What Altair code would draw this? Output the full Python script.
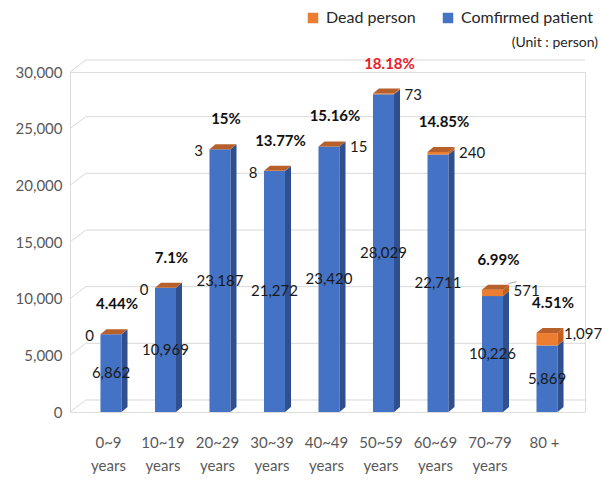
import json
import altair as alt
import pandas as pd

# ---------------- data ----------------
categories = ["0~9 years", "10~19 years", "20~29 years", "30~39 years", "40~49 years",
              "50~59 years", "60~69 years", "70~79 years", "80 +"]
confirmed = [6862, 10969, 23187, 21272, 23420, 28029, 22711, 10226, 5869]
dead = [0, 0, 3, 8, 15, 73, 240, 571, 1097]
rates = ["4.44%", "7.1%", "15%", "13.77%", "15.16%", "18.18%", "14.85%", "6.99%", "4.51%"]
series = ["Dead person", "Comfirmed patient"]
y_ticks = [0, 5000, 10000, 15000, 20000, 25000, 30000]
unit_note = ["(Unit : person)"]

# ---------------- styles ----------------
FONT = "Lato"
BLUE, BLUE_SIDE = "#4472C4", "#2F4F8F"
ORANGE, ORANGE_SIDE, ORANGE_TOP = "#ED7D31", "#C45F1E", "#B8602C"
HALF = 0.193      # half of front face width (category units)
DX = 0.11         # 3D depth, horizontal (category units)
DY = 441          # 3D depth, vertical (value units, ~5px)
X_MIN, X_MAX = -0.752, 8.697
WALL_DX = 0.29    # back-wall offset of gridlines (category units, ~16px)
WALL_DY = 1060    # back-wall offset of gridlines (value units, ~12px)

# ---------------- tables built from the arrays ----------------
bars = pd.DataFrame({"i": range(len(categories)), "cat": categories,
                     "confirmed": confirmed, "dead": dead, "rate": rates})
bars["total"] = bars["confirmed"] + bars["dead"]

seg_rows, side_rows, top_rows = [], [], []
for r in bars.itertuples():
    for s, lo, hi in [("Comfirmed patient", 0, r.confirmed), ("Dead person", r.confirmed, r.total)]:
        seg_rows.append({"i": r.i, "series": s, "x0": r.i - HALF, "x1": r.i + HALF, "lo": lo, "hi": hi})
        key = f"{r.i}-{s}"
        side_rows.append({"key": key, "series": s, "x": r.i + HALF, "lo": lo, "hi": hi})
        side_rows.append({"key": key, "series": s, "x": r.i + HALF + DX, "lo": lo + DY, "hi": hi + DY})
    t = r.total
    for x, lo, hi in [(r.i - HALF, t, t), (r.i - HALF + DX, t, t + DY),
                      (r.i + HALF, t, t + DY), (r.i + HALF + DX, t + DY, t + DY)]:
        top_rows.append({"key": str(r.i), "x": x, "lo": lo, "hi": hi})
segs = pd.DataFrame(seg_rows)
sides = pd.DataFrame(side_rows)
tops = pd.DataFrame(top_rows)

grid_rows = []
for v in y_ticks:
    grid_rows.append({"key": v, "x": X_MIN, "y": v})
    grid_rows.append({"key": v, "x": X_MIN + WALL_DX, "y": v + WALL_DY})
    grid_rows.append({"key": v, "x": X_MAX, "y": v + WALL_DY})
grid = pd.DataFrame(grid_rows)

xscale = alt.Scale(domain=[X_MIN, X_MAX], nice=False, zero=False)
yscale = alt.Scale(domain=[0, 30000], nice=False)

arr = json.dumps(categories)
lab = f"{arr}[datum.value]"
label_expr = f"indexof({lab}, ' years') > 0 ? [replace({lab}, ' years', ''), 'years'] : {lab}"

XAX = alt.Axis(values=list(range(len(categories))), labelExpr=label_expr,
               labelFontSize=15, labelFont=FONT, labelColor="#595959",
               labelLineHeight=23, labelBaseline="top", labelPadding=23,
               labelOffset=-3, domain=False, ticks=False, grid=False, title=None)
YAX = alt.Axis(values=y_ticks, labelExpr="format(datum.value, ',')", labelFontSize=15,
               labelFont=FONT, labelColor="#595959", domain=False, ticks=False, grid=False,
               labelPadding=8, title=None)


def X(field):
    return alt.X(field, scale=xscale, axis=XAX, title=None)


def Y(field, **kw):
    return alt.Y(field, scale=yscale, axis=YAX, title=None, **kw)


# ---------------- layers ----------------
grid_lines = alt.Chart(grid).mark_line(color="#D9D9D9", strokeWidth=1).encode(
    x=X("x:Q"), y=Y("y:Q"), detail="key:N", order="x:Q",
)

front = alt.Chart(segs).mark_rect().encode(
    x=X("x0:Q"), x2="x1:Q",
    y=Y("lo:Q"), y2="hi:Q",
    color=alt.Color("series:N",
                    scale=alt.Scale(domain=series, range=[ORANGE, BLUE]),
                    legend=alt.Legend(orient="none", legendX=235, legendY=-62,
                                      direction="horizontal", title=None,
                                      symbolType="square", symbolSize=110,
                                      symbolStrokeWidth=0, labelFontSize=16,
                                      labelFont=FONT, labelColor="#262626",
                                      labelOffset=5, columnPadding=24)),
)

side_blue = alt.Chart(sides).transform_filter("datum.series == 'Comfirmed patient'").mark_area(
    color=BLUE_SIDE, opacity=1).encode(
    x=X("x:Q"), y=Y("hi:Q", stack=None), y2="lo:Q", detail="key:N",
)
side_orange = alt.Chart(sides).transform_filter("datum.series == 'Dead person'").mark_area(
    color=ORANGE_SIDE, opacity=1).encode(
    x=X("x:Q"), y=Y("hi:Q", stack=None), y2="lo:Q", detail="key:N",
)
top_face = alt.Chart(tops).mark_area(color=ORANGE_TOP, opacity=1).encode(
    x=X("x:Q"), y=Y("hi:Q", stack=None), y2="lo:Q", detail="key:N",
)

base = alt.Chart(bars)
conf_text = base.transform_calculate(mid="datum.confirmed / 2").mark_text(
    font=FONT, fontSize=15, color="#1a1a1a").encode(
    x=X("i:Q"), y=Y("mid:Q"),
    text=alt.Text("confirmed:Q", format=","),
)
rate_text = base.mark_text(font=FONT, fontSize=15, fontWeight="bold", dx=6, dy=-30).encode(
    x=X("i:Q"), y=Y("total:Q"),
    text="rate:N",
    color=alt.condition("datum.i == 5", alt.value("#E8202A"), alt.value("#111111")),
)
dead_left = base.transform_filter("datum.i < 4").mark_text(
    font=FONT, fontSize=15, color="#1a1a1a", align="right", dx=-17, dy=2).encode(
    x=X("i:Q"), y=Y("total:Q"),
    text=alt.Text("dead:Q", format=","),
)
dead_right = base.transform_filter("datum.i >= 4 && datum.i < 8").mark_text(
    font=FONT, fontSize=15, color="#1a1a1a", align="left", dx=21, dy=1).encode(
    x=X("i:Q"), y=Y("total:Q"),
    text=alt.Text("dead:Q", format=","),
)
dead_last = base.transform_filter("datum.i == 8").mark_text(
    font=FONT, fontSize=15, color="#1a1a1a", align="left", dx=17, dy=1).encode(
    x=X("i:Q"), y=Y("total:Q"),
    text=alt.Text("dead:Q", format=","),
)
leader = base.transform_filter("datum.i == 7").mark_rule(
    color="#A6A6A6", strokeWidth=1, xOffset=16, x2Offset=24, yOffset=-6, y2Offset=-8).encode(
    x=X("i:Q"), x2="i:Q",
    y=Y("total:Q"), y2="total:Q",
)
unit = alt.Chart(pd.DataFrame({"t": unit_note})).mark_text(
    font=FONT, fontSize=14, color="#262626", align="right").encode(
    x=alt.value(528), y=alt.value(-29), text="t:N",
)

chart = alt.layer(
    grid_lines, front, side_blue, side_orange, top_face,
    conf_text, rate_text, dead_left, dead_right, dead_last, leader, unit,
).properties(
    width=515, height=340,
    autosize=alt.AutoSizeParams(type="none"),
    padding={"left": 70, "top": 72, "right": 17, "bottom": 68},
).configure_view(stroke=None).configure(background="white")

chart.save("out.html", embed_options={"renderer": "svg", "actions": False})
